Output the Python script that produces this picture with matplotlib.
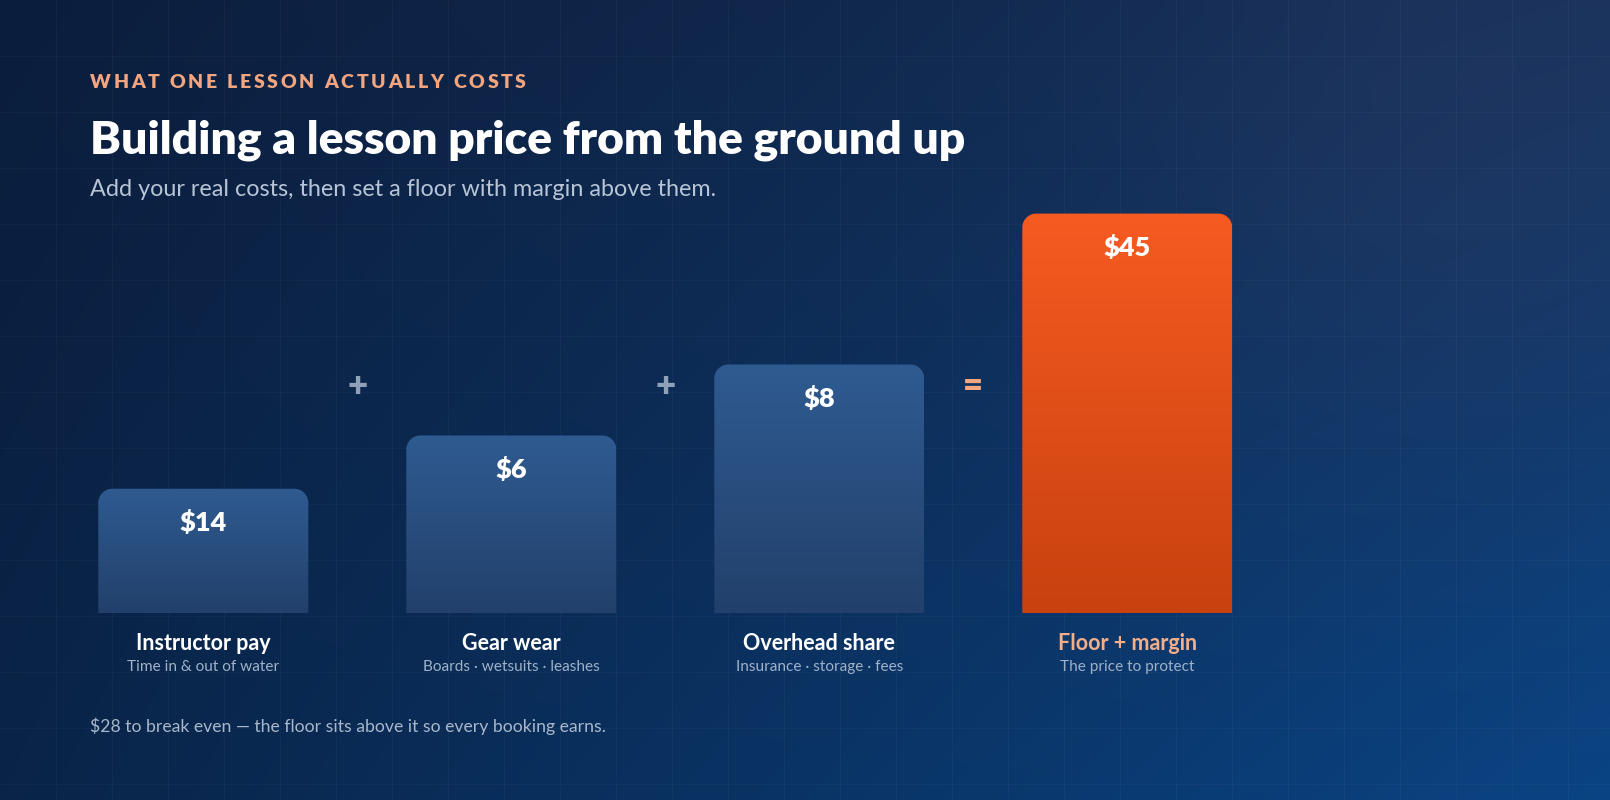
import numpy as np
import matplotlib
matplotlib.use("Agg")
from matplotlib import pyplot as plt
from matplotlib.path import Path
from matplotlib.patches import PathPatch
from matplotlib.colors import LinearSegmentedColormap
from matplotlib.transforms import blended_transform_factory

# chart data
categories = ["Instructor pay", "Gear wear", "Overhead share", "Floor + margin"]
notes = ["Time in & out of water", "Boards \u00b7 wetsuits \u00b7 leashes",
         "Insurance \u00b7 storage \u00b7 fees", "The price to protect"]
costs = [14, 6, 8]
floor_price = 45
operators = ["+", "+", "="]

eyebrow = "WHAT ONE LESSON ACTUALLY COSTS"
title = "Building a lesson price from the ground up"
subtitle = "Add your real costs, then set a floor with margin above them."
break_even = sum(costs)
footer = f"${break_even} to break even \u2014 the floor sits above it so every booking earns."

# bars stack up: each cost bar sits at the running total, last one is the floor
heights = list(np.cumsum(costs)) + [floor_price]
values = costs + [floor_price]

FONT = "Lato"
W, H = 1610, 800
fig = plt.figure(figsize=(W / 100, H / 100), dpi=100)

# background: navy gradient with faint glow and 56px grid
yy, xx = np.mgrid[0:H, 0:W]
u = xx / W
v = yy / H
tl = np.array([11, 29, 60])
tr = np.array([22, 50, 92])
bl = np.array([9, 36, 72])
br = np.array([10, 68, 132])
bg = (tl * ((1 - u) * (1 - v))[..., None] + tr * (u * (1 - v))[..., None]
      + bl * ((1 - u) * v)[..., None] + br * (u * v)[..., None])
d = np.hypot(xx - 1460, yy - 140) / 320.0
glow = np.exp(-d ** 2)[..., None]
bg = bg * (1 - 0.35 * glow) + np.array([44, 58, 98]) * 0.35 * glow
bg = np.clip(bg / 255.0, 0, 1)

bax = fig.add_axes([0, 0, 1, 1])
bax.imshow(bg, extent=[0, W, H, 0], aspect="auto", interpolation="bilinear")
for gx in range(56, W, 56):
    bax.axvline(gx, color="white", alpha=0.032, lw=0.9)
for gy in range(56, H, 56):
    bax.axhline(gy, color="white", alpha=0.032, lw=0.9)
bax.set_xlim(0, W)
bax.set_ylim(H, 0)
bax.axis("off")

# bar axes in dollar units
base_px = 613
px_per_dollar = 8.876
step_px = 308
left_px = 203.3 - step_px / 2
ymax = 50
ax = fig.add_axes([left_px / W, (H - base_px) / H, step_px * 4 / W, ymax * px_per_dollar / H])
ax.patch.set_alpha(0)
ax.axis("off")

bar_w = 210 / step_px
rx = 14 / step_px
ry = 14 / px_per_dollar

blue = LinearSegmentedColormap.from_list("blue", ["#22406b", "#2f5b91"])
orange = LinearSegmentedColormap.from_list("orange", ["#c8410f", "#f65b21"])
grad = np.linspace(0, 1, 256).reshape(-1, 1)


def rounded_top(x0, x1, h):
    k = 0.5523
    verts = [(x0, 0), (x0, h - ry), (x0, h - ry + k * ry), (x0 + rx - k * rx, h), (x0 + rx, h),
             (x1 - rx, h), (x1 - rx + k * rx, h), (x1, h - ry + k * ry), (x1, h - ry),
             (x1, 0), (x0, 0)]
    codes = [Path.MOVETO, Path.LINETO, Path.CURVE4, Path.CURVE4, Path.CURVE4,
             Path.LINETO, Path.CURVE4, Path.CURVE4, Path.CURVE4, Path.LINETO, Path.CLOSEPOLY]
    return Path(verts, codes)


for i, (h, val) in enumerate(zip(heights, values)):
    x0, x1 = i - bar_w / 2, i + bar_w / 2
    patch = PathPatch(rounded_top(x0, x1, h), facecolor="none", edgecolor="none")
    ax.add_patch(patch)
    cmap = orange if i == len(heights) - 1 else blue
    im = ax.imshow(grad, cmap=cmap, extent=[x0, x1, 0, h], origin="lower",
                   aspect="auto", interpolation="bilinear")
    im.set_clip_path(patch)
    ax.annotate(f"${val}", xy=(i, h), xytext=(0, -34 * 0.72), textcoords="offset points",
                ha="center", va="center", color="white", fontsize=19.5,
                fontweight="heavy", family=FONT)

ax.set_xlim(-0.5, 3.5)
ax.set_ylim(0, ymax)

fx = blended_transform_factory(ax.transData, fig.transFigure)
for i, op in enumerate(operators):
    col = "#f4a882" if op == "=" else "#8fa0b9"
    ax.text(i + 0.5, 1 - 387 / H, op, transform=fx, ha="center", va="center",
            color=col, fontsize=25, fontweight="heavy", family=FONT)

for i, (cat, note) in enumerate(zip(categories, notes)):
    col = "#f6ae88" if i == len(categories) - 1 else "white"
    ax.text(i, 1 - 643 / H, cat, transform=fx, ha="center", va="center",
            color=col, fontsize=15.5, fontweight="bold", family=FONT)
    ax.text(i, 1 - 667 / H, note, transform=fx, ha="center", va="center",
            color="#9fb1c8", fontsize=11.1, family=FONT)

# headings
renderer = fig.canvas.get_renderer()


def tracked_text(x, y, s, target_w, **kw):
    items = []
    total = 0
    for ch in s:
        t = fig.text(x / W, 1 - y / H, ch if ch != " " else "\u00a0", **kw)
        w = t.get_window_extent(renderer).width
        if ch == " ":
            w = kw.get("fontsize", 12) * 100 / 72 * 0.25
        items.append((t, w))
        total += w
    track = (target_w - total) / max(len(s) - 1, 1)
    cx = x
    for t, w in items:
        t.set_x(cx / W)
        cx += w + track


tracked_text(90, 83, eyebrow, 436, color="#f2a57e", fontsize=14,
             fontweight="heavy", family=FONT, ha="left", va="center")
fig.text(90 / W, 1 - 140 / H, title, color="white", fontsize=33.3, fontweight="heavy",
         family=FONT, ha="left", va="center")
fig.text(90 / W, 1 - 190 / H, subtitle, color="#b7c4d6", fontsize=16.8, family=FONT,
         ha="left", va="center")
fig.text(90 / W, 1 - 726 / H, footer, color="#a9b7ca", fontsize=12.7, family=FONT,
         ha="left", va="center")

fig.savefig("out.png", dpi=100)
